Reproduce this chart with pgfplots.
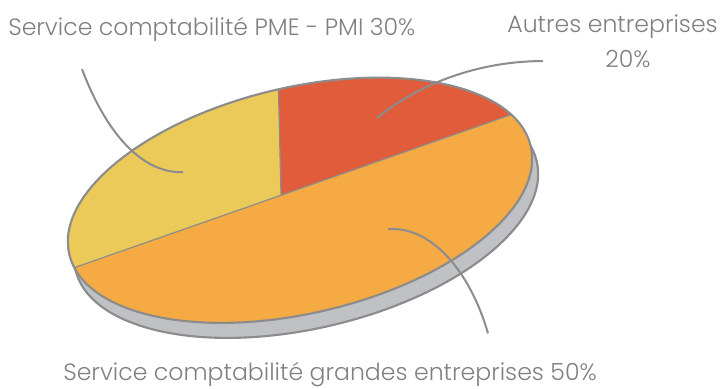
\documentclass[border=0pt]{standalone}
\usepackage{pgfplots}
\pgfplotsset{compat=1.18}
\usepackage{fontspec}
\setmainfont{Poppins}[UprightFont=* Light]

\definecolor{cYel}{RGB}{236,202,90}
\definecolor{cRed}{RGB}{224,92,58}
\definecolor{cOra}{RGB}{245,170,67}
\definecolor{cSide}{RGB}{192,193,197}
\definecolor{cLine}{RGB}{140,140,140}
\definecolor{cText}{RGB}{128,128,128}

% data (percent)
\def\vAutres{20}
\def\vPME{30}
\def\vGrandes{50}

% geometry of the tilted disc (pt)
\def\ra{177.75}
\def\rb{84.75}
\def\tilt{13.2}
\def\startang{12.5}
\def\wx{-0.0367}
\def\wy{0.0409}

\newcommand\projang[2]{\pgfmathsetmacro#1{#2-2*atan2((\wx)*sin(#2)-(\wy)*cos(#2),1+(\wx)*cos(#2)+(\wy)*sin(#2))}}

\pgfmathsetmacro\thA{\startang}
\pgfmathsetmacro\thB{\thA+3.6*\vAutres}
\pgfmathsetmacro\thC{\thB+3.6*\vPME}
\pgfmathsetmacro\thD{\thC+3.6*\vGrandes}
\projang\tA\thA
\projang\tB\thB
\projang\tC\thC
\projang\tD\thD
\pgfmathsetmacro\px{\ra*2*(\wx)/(1+(\wx)*(\wx)+(\wy)*(\wy))}
\pgfmathsetmacro\py{\rb*2*(\wy)/(1+(\wx)*(\wx)+(\wy)*(\wy))}

\newcommand\sector[3]{% color, t1, t2
  \fill[#1] (\px pt,\py pt) -- ({\ra*cos(#2)*1pt},{\rb*sin(#2)*1pt})
     arc[start angle=#2, end angle=#3, x radius=\ra pt, y radius=\rb pt] -- cycle;}
\newcommand\divider[1]{%
  \draw[cLine, line width=0.9pt] (\px pt,\py pt) -- ({\ra*cos(#1)*1pt},{\rb*sin(#1)*1pt});}

\begin{document}
\begin{tikzpicture}
\begin{axis}[name=ax, hide axis, scale only axis, width=541.5pt, height=291pt,
  xmin=0, xmax=722, ymin=0, ymax=388, clip=false]
% side of the disc
\begin{scope}[shift={(axis cs:306,173)}, rotate=\tilt]
  \draw[cLine, line width=1.6pt, fill=cSide] (0,0) ellipse [x radius=\ra pt, y radius=\rb pt];
\end{scope}
% top of the disc
\begin{scope}[shift={(axis cs:300,188)}, rotate=\tilt]
  \sector{cRed}{\tA}{\tB}
  \sector{cYel}{\tB}{\tC}
  \sector{cOra}{\tC}{\tD}
  \divider{\tA}
  \divider{\tB}
  \divider{\tC}
  \draw[cLine, line width=1.6pt] (0,0) ellipse [x radius=\ra pt, y radius=\rb pt];
\end{scope}
% leader lines
\draw[cLine, line width=1.5pt] (axis cs:82,319) .. controls (axis cs:105,258) and (axis cs:140,215) .. (axis cs:183,216);
\draw[cLine, line width=1.5pt] (axis cs:377,270) .. controls (axis cs:410,298) and (axis cs:470,327) .. (axis cs:543,327);
\draw[cLine, line width=1.5pt] (axis cs:388,159) .. controls (axis cs:430,163) and (axis cs:470,118) .. (axis cs:488,55);
% labels
\node[anchor=base west, inner sep=0pt, text=cText, font=\fontsize{17.7}{21}\selectfont] at (axis cs:8,353) {Service comptabilité PME - PMI 30\%};
\node[anchor=base east, inner sep=0pt, text=cText, font=\fontsize{17.7}{21}\selectfont] at (axis cs:718,356) {Autres entreprises};
\node[anchor=base, inner sep=0pt, text=cText, font=\fontsize{17.7}{21}\selectfont] at (axis cs:628,321) {20\%};
\node[anchor=base, inner sep=0pt, text=cText, font=\fontsize{17.7}{21}\selectfont] at (axis cs:330,8) {Service comptabilité grandes entreprises 50\%};
\end{axis}
\pgfresetboundingbox
\path (ax.south west) rectangle (ax.north east);
\end{tikzpicture}
\end{document}
